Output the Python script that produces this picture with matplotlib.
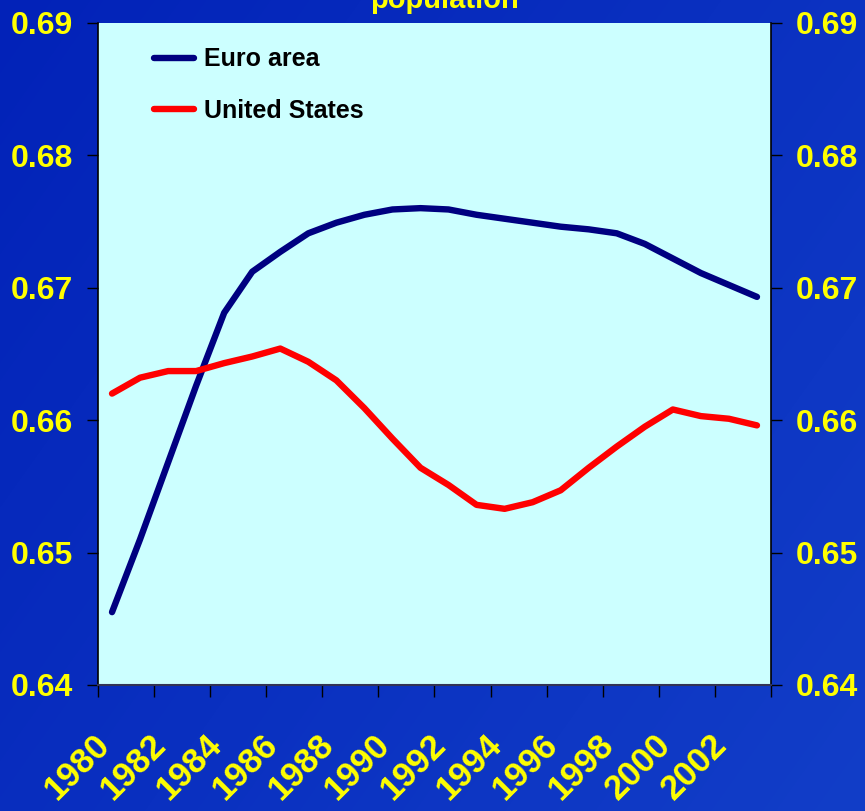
import numpy as np
import matplotlib
matplotlib.use("Agg")
import matplotlib.pyplot as plt

years = list(range(1980, 2004))
euro_area = [0.6455, 0.6510, 0.6568, 0.6626, 0.6681, 0.6712, 0.6727, 0.6741,
             0.6749, 0.6755, 0.6759, 0.6760, 0.6759, 0.6755, 0.6752, 0.6749,
             0.6746, 0.6744, 0.6741, 0.6733, 0.6722, 0.6711, 0.6702, 0.6693]
united_states = [0.6620, 0.6632, 0.6637, 0.6637, 0.6643, 0.6648, 0.6654, 0.6644,
                 0.6630, 0.6609, 0.6586, 0.6564, 0.6551, 0.6536, 0.6533, 0.6538,
                 0.6547, 0.6564, 0.6580, 0.6595, 0.6608, 0.6603, 0.6601, 0.6596]
year_labels = [str(y) for y in years[::2]]
y_ticks = [0.64, 0.65, 0.66, 0.67, 0.68, 0.69]
y_labels = ["0.64", "0.65", "0.66", "0.67", "0.68", "0.69"]

W, H = 865, 811
fig = plt.figure(figsize=(W / 100, H / 100), dpi=100)

# background gradient
bg = fig.add_axes([0, 0, 1, 1], zorder=-10)
yy, xx = np.mgrid[0:H, 0:W]
t = np.clip((xx / W) * 0.6 + (yy / H) * 0.4, 0, 1)
c0 = np.array([0x02, 0x22, 0xb8]) / 255
c1 = np.array([0x12, 0x3e, 0xc8]) / 255
img = c0[None, None, :] * (1 - t[..., None]) + c1[None, None, :] * t[..., None]
bg.imshow(img, aspect="auto", extent=[0, 1, 0, 1], origin="upper")
bg.set_xlim(0, 1); bg.set_ylim(0, 1)
bg.axis("off")

ax = fig.add_axes([98 / W, 1 - 685 / H, (771 - 98) / W, (685 - 22.7) / H])
ax.set_facecolor("#CCFFFF")

x = np.arange(len(years))
ax.plot(x, euro_area, color="#000080", lw=4.6, solid_capstyle="round",
        solid_joinstyle="round", label="Euro area")
ax.plot(x, united_states, color="#FF0000", lw=4.6, solid_capstyle="round",
        solid_joinstyle="round", label="United States")

ax.set_xlim(-0.5, len(years) - 0.5)
ax.set_ylim(0.64, 0.69)

ax.set_xticks(np.arange(-0.5, len(years), 2))
ax.set_xticklabels([])
ax.set_xticks(x[::2] + 0.15, minor=True)
ax.set_xticklabels(year_labels, minor=True, rotation=45, ha="right", va="top",
                   color="#FFFF00", fontsize=25, fontweight="bold",
                   family="Liberation Sans")
ax.tick_params(axis="x", which="major", direction="out", length=8.5, width=1,
               color="black")
ax.tick_params(axis="x", which="minor", length=0, pad=31)

ax.set_yticks(y_ticks)
ax.set_yticklabels(y_labels, color="#FFFF00", fontsize=23, fontweight="bold",
                   family="Liberation Sans")
ax.tick_params(axis="y", direction="out", length=8, width=1, color="black",
               pad=10, right=True, labelright=True)

for s in ["left", "right"]:
    ax.spines[s].set_color("black")
    ax.spines[s].set_linewidth(1.2)
ax.spines["bottom"].set_color("#333355")
ax.spines["bottom"].set_linewidth(1.5)
ax.spines["top"].set_visible(False)

leg = ax.legend(loc="upper left", bbox_to_anchor=(0.068, 0.978), frameon=False,
                handlelength=1.6, handletextpad=0.4, labelspacing=1.1,
                borderaxespad=0.0,
                prop={"family": "Liberation Sans", "weight": "bold", "size": 18})
for txt in leg.get_texts():
    txt.set_color("black")

fig.text(444 / W, 1 - 8 / H, "population", ha="center", va="baseline",
         color="#FFFF00", fontsize=21, fontweight="bold", family="Liberation Sans")

fig.savefig("out.png", dpi=100)
